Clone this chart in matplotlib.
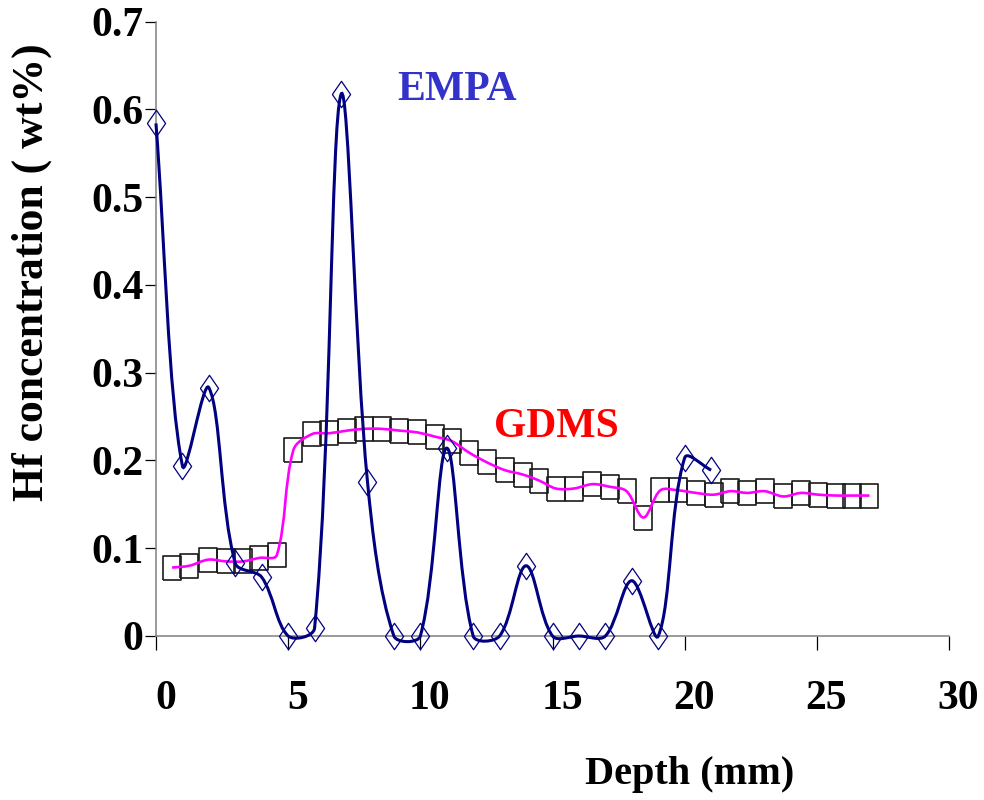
import numpy as np
import matplotlib
matplotlib.use('Agg')
import matplotlib.pyplot as plt
from matplotlib.path import Path
from matplotlib.patches import PathPatch
from matplotlib.transforms import ScaledTranslation

# EMPA measurements (depth mm, Hf wt%)
empa_depth = [0, 1, 2, 3, 4, 5, 6, 7, 8, 9, 10, 11, 12, 13, 14, 15, 16, 17, 18, 19, 20, 21]
empa_hf = [0.584, 0.194, 0.283, 0.083, 0.067, 0.0, 0.009, 0.617, 0.176, 0.0, 0.0,
           0.214, 0.0, 0.0, 0.080, 0.0, 0.0, 0.0, 0.063, 0.0, 0.203, 0.189]

# GDMS measurements
gdms_depth = [0.61, 1.26, 1.98, 2.65, 3.29, 3.91, 4.57, 5.20, 5.90, 6.56, 7.23, 7.88,
              8.54, 9.21, 9.88, 10.57, 11.19, 11.84, 12.51, 13.19, 13.87, 14.50, 15.13,
              15.80, 16.51, 17.17, 17.80, 18.44, 19.08, 19.74, 20.43, 21.10, 21.73,
              22.37, 23.02, 23.73, 24.39, 25.06, 25.72, 26.34, 26.99]
gdms_hf = [0.078, 0.080, 0.087, 0.085, 0.085, 0.089, 0.092, 0.212, 0.230, 0.231, 0.234,
           0.236, 0.236, 0.234, 0.232, 0.227, 0.222, 0.209, 0.198, 0.189, 0.184, 0.177,
           0.168, 0.168, 0.173, 0.170, 0.165, 0.135, 0.166, 0.166, 0.163, 0.161, 0.165,
           0.163, 0.165, 0.159, 0.163, 0.161, 0.160, 0.160, 0.160]

x_ticks = [0, 5, 10, 15, 20, 25, 30]
y_ticks = [0, 0.1, 0.2, 0.3, 0.4, 0.5, 0.6, 0.7]
y_ticklabels = ['0', '0.1', '0.2', '0.3', '0.4', '0.5', '0.6', '0.7']

serif = ['Liberation Serif', 'DejaVu Serif']


def smooth_path(ax, xs, ys):
    # Excel-like smoothed line: cubic Bezier segments, tangents scaled by
    # on-screen chord lengths so flat stretches don't overshoot
    pts = np.column_stack([xs, ys]).astype(float)
    pix = ax.transData.transform(pts)
    n = len(pts)

    def dist(i, j):
        return np.hypot(*(pix[j] - pix[i]))

    verts = [pts[0]]
    codes = [Path.MOVETO]
    for i in range(n - 1):
        i0 = max(i - 1, 0)
        i3 = min(i + 2, n - 1)
        d01, d12, d23 = dist(i0, i), dist(i, i + 1), dist(i + 1, i3)
        f1 = d12 / (d01 + d12) / 3.0 if d01 + d12 > 0 else 0
        f2 = d12 / (d12 + d23) / 3.0 if d12 + d23 > 0 else 0
        c1 = pts[i] + (pts[i + 1] - pts[i0]) * f1
        c2 = pts[i + 1] - (pts[i3] - pts[i]) * f2
        verts += [c1, c2, pts[i + 1]]
        codes += [Path.CURVE4] * 3
    return Path(verts, codes)


tall_diamond = [(-0.69, 0), (0, 1), (0.69, 0), (0, -1), (-0.69, 0)]
tall_square = [(-0.75, -1), (0.75, -1), (0.75, 1), (-0.75, 1), (-0.75, -1)]

fig = plt.figure(figsize=(9.84, 8), dpi=100)
ax = fig.add_axes([0.1585, 0.205, 0.806, 0.768])
ax.set_xlim(0, 30)
ax.set_ylim(0, 0.7)

# GDMS: square markers, magenta smoothed line
ax.plot(gdms_depth, gdms_hf, linestyle='none', marker=tall_square, markersize=17,
        markerfacecolor='none', markeredgecolor='#1a1a1a', markeredgewidth=1.2, zorder=3)
ax.add_patch(PathPatch(smooth_path(ax, gdms_depth, gdms_hf), facecolor='none',
                       edgecolor='#ff00ff', linewidth=1.9, zorder=4, clip_on=False))

# EMPA: diamond markers, navy smoothed line
ax.add_patch(PathPatch(smooth_path(ax, empa_depth, empa_hf), facecolor='none',
                       edgecolor='#000080', linewidth=2.2, zorder=5, clip_on=False))
ax.plot(empa_depth, empa_hf, linestyle='none', marker=tall_diamond, markersize=19,
        markerfacecolor='none', markeredgecolor='#000080', markeredgewidth=0.9,
        zorder=6, clip_on=False)

ax.set_xlim(0, 30)
ax.set_ylim(0, 0.7)
ax.set_xticks(x_ticks)
ax.set_xticklabels([str(t) for t in x_ticks])
ax.set_yticks(y_ticks)
ax.set_yticklabels(y_ticklabels)

for side in ['top', 'right']:
    ax.spines[side].set_visible(False)
for side in ['left', 'bottom']:
    ax.spines[side].set_color('#808080')
    ax.spines[side].set_linewidth(1.1)

ax.tick_params(axis='y', direction='out', length=8, width=0.9, color='black', pad=1)
ax.tick_params(axis='x', direction='out', length=10, width=0.9, color='black', pad=22)

for lab in ax.get_xticklabels() + ax.get_yticklabels():
    lab.set_fontfamily(serif)
    lab.set_fontweight('bold')
    lab.set_fontsize(30)
for lab in ax.get_xticklabels():
    lab.set_transform(lab.get_transform() + ScaledTranslation(0.095, 0, fig.dpi_scale_trans))

ax.text(11.39, 0.611, 'EMPA', color='#3333cc', fontsize=30, fontweight='bold',
        family=serif, ha='center', va='baseline')
ax.text(15.13, 0.227, 'GDMS', color='#ff0000', fontsize=30, fontweight='bold',
        family=serif, ha='center', va='baseline')

fig.text(690 / 984, 1 - 784 / 800, 'Depth (mm)', fontsize=29, fontweight='bold',
         family=serif, ha='center', va='baseline')
fig.text(32 / 984, 1 - 272 / 800, 'Hf concentration ( wt%)', fontsize=31.5,
         fontweight='bold', family=serif, rotation=90, ha='center', va='center')

fig.savefig('out.png', dpi=100)
